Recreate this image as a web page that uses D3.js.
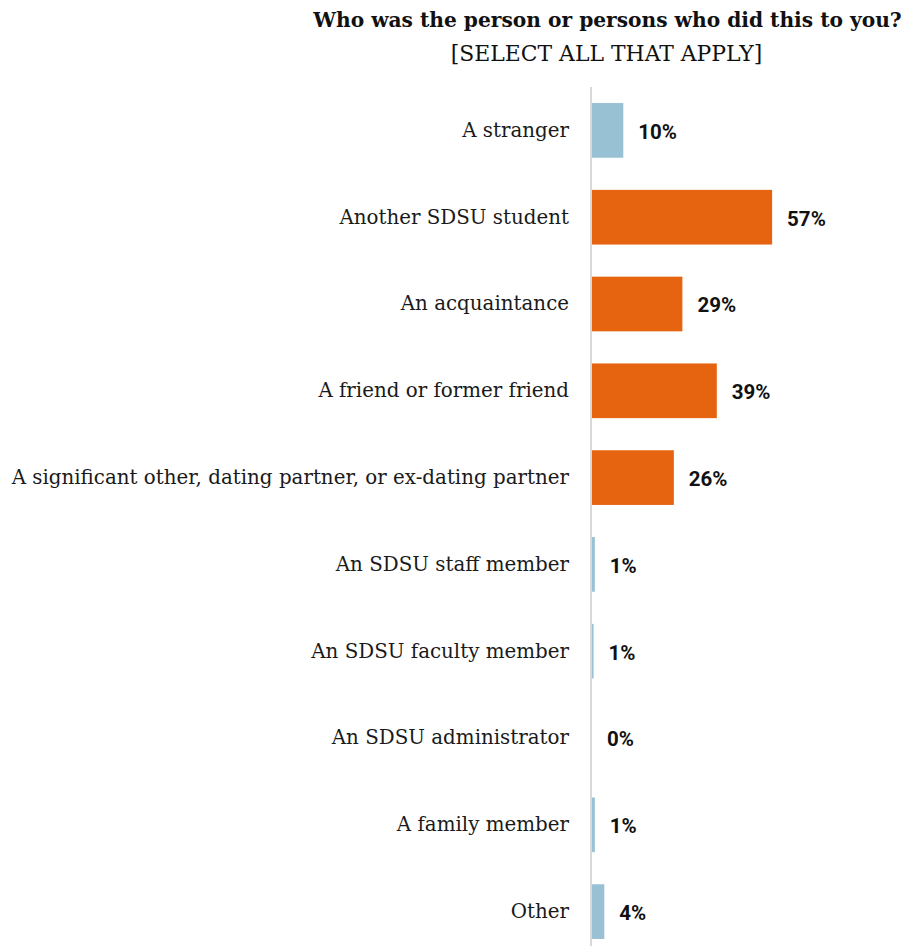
<!DOCTYPE html>
<html>
<head>
<meta charset="utf-8">
<script src="https://cdn.jsdelivr.net/npm/d3@7"></script>
<style>
  html, body { margin: 0; padding: 0; background: #fff; }
  svg { display: block; }
</style>
</head>
<body>
<svg id="chart" width="905" height="946"></svg>
<script>
const categories = [
  "A stranger",
  "Another SDSU student",
  "An acquaintance",
  "A friend or former friend",
  "A significant other, dating partner, or ex-dating partner",
  "An SDSU staff member",
  "An SDSU faculty member",
  "An SDSU administrator",
  "A family member",
  "Other"
];
const values = [9.9, 57.0, 28.6, 39.5, 25.9, 0.9, 0.5, 0.0, 0.9, 3.9];
const valueLabels = ["10%", "57%", "29%", "39%", "26%", "1%", "1%", "0%", "1%", "4%"];
const highlighted = [false, true, true, true, true, false, false, false, false, false];
const titleLines = ["Who was the person or persons who did this to you?", "[SELECT ALL THAT APPLY]"];

const W = 905, H = 946;
const svg = d3.select("#chart");
const slab = "'DejaVu Serif', serif";
const sans = "Roboto, 'Liberation Sans', sans-serif";

const x = d3.scaleLinear().domain([0, 100]).range([592, 908]);
const y = d3.scaleBand().domain(categories).range([87, 955]).paddingInner(0.37).paddingOuter(0.185);

// title
svg.append("text")
  .attr("x", 607.5).attr("y", 27)
  .attr("text-anchor", "middle")
  .style("font-family", slab).style("font-weight", "bold").style("font-size", "20.2px")
  .attr("fill", "#111")
  .text(titleLines[0]);
svg.append("text")
  .attr("x", 606.5).attr("y", 61)
  .attr("text-anchor", "middle")
  .style("font-family", slab).style("font-size", "21.9px")
  .attr("fill", "#111")
  .text(titleLines[1]);

// bars
svg.append("g").selectAll("rect")
  .data(categories)
  .join("rect")
  .attr("x", x(0))
  .attr("y", d => y(d))
  .attr("width", (d, i) => x(values[i]) - x(0))
  .attr("height", y.bandwidth())
  .attr("fill", (d, i) => highlighted[i] ? "#e66410" : "#98c1d3");

// category axis with left baseline
const axis = d3.axisLeft(y).tickSize(0).tickPadding(22);
const gAxis = svg.append("g").attr("transform", `translate(${x(0) - 1},0)`).call(axis);
gAxis.select(".domain").remove();
gAxis.append("line").attr("x1", 0).attr("x2", 0).attr("y1", 87).attr("y2", H)
  .attr("stroke", "#d9d9d9").attr("stroke-width", 2);
gAxis.selectAll(".tick text")
  .style("font-family", slab).style("font-size", "19.85px").attr("fill", "#1a1a1a")
  .attr("dy", "0.32em");

// value labels
svg.append("g").selectAll("text")
  .data(categories)
  .join("text")
  .attr("x", (d, i) => x(values[i]) + 15)
  .attr("y", d => y(d) + y.bandwidth() / 2)
  .attr("dy", "0.41em")
  .style("font-family", sans).style("font-weight", "bold").style("font-size", "20.5px")
  .attr("fill", "#111")
  .text((d, i) => valueLabels[i]);
</script>
</body>
</html>
